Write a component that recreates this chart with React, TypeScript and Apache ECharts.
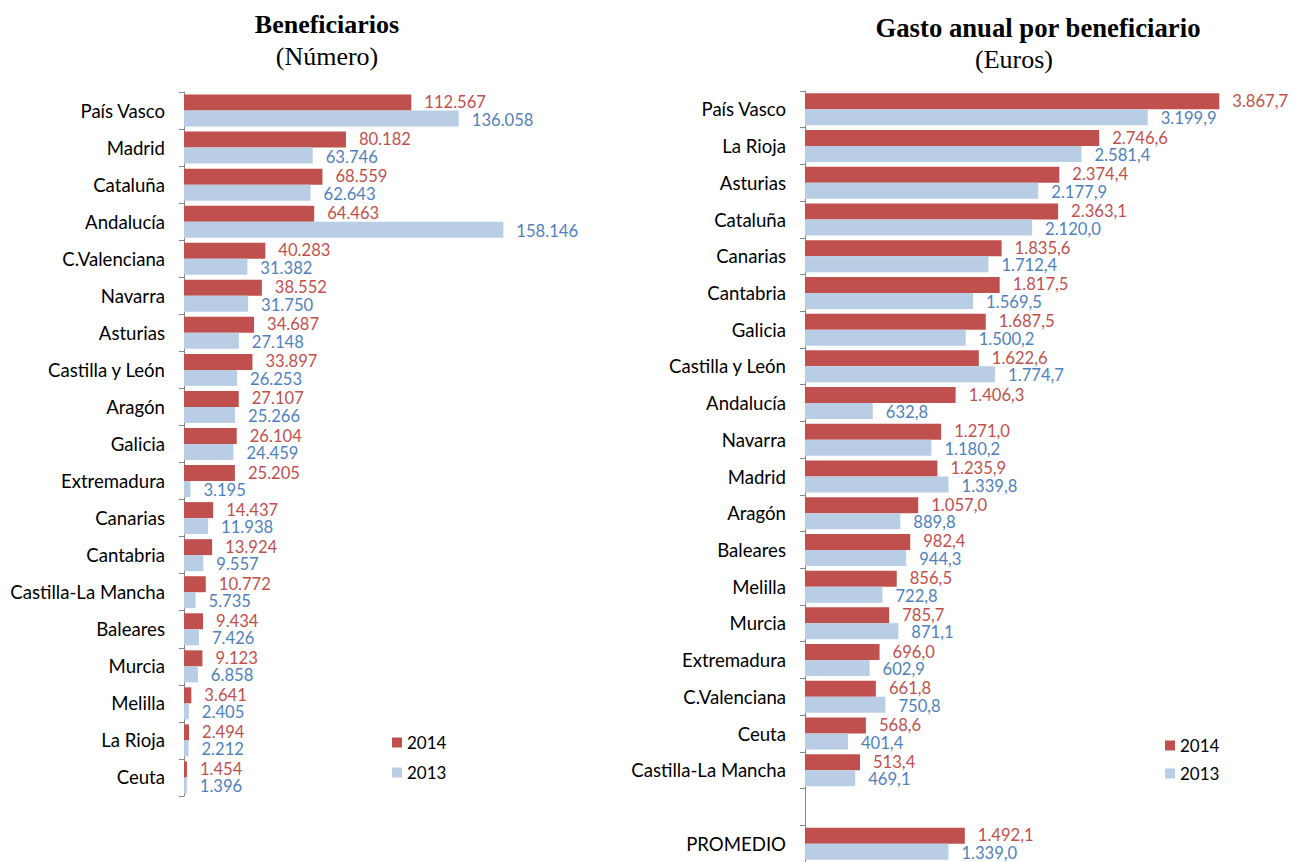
import React, { useEffect, useRef } from "react";
import * as echarts from "echarts";

const leftCategories = ["País Vasco", "Madrid", "Cataluña", "Andalucía", "C.Valenciana", "Navarra", "Asturias", "Castilla y León", "Aragón", "Galicia", "Extremadura", "Canarias", "Cantabria", "Castilla-La Mancha", "Baleares", "Murcia", "Melilla", "La Rioja", "Ceuta"];
const left2014 = [112567, 80182, 68559, 64463, 40283, 38552, 34687, 33897, 27107, 26104, 25205, 14437, 13924, 10772, 9434, 9123, 3641, 2494, 1454];
const left2013 = [136058, 63746, 62643, 158146, 31382, 31750, 27148, 26253, 25266, 24459, 3195, 11938, 9557, 5735, 7426, 6858, 2405, 2212, 1396];

const rightCategories = ["País Vasco", "La Rioja", "Asturias", "Cataluña", "Canarias", "Cantabria", "Galicia", "Castilla y León", "Andalucía", "Navarra", "Madrid", "Aragón", "Baleares", "Melilla", "Murcia", "Extremadura", "C.Valenciana", "Ceuta", "Castilla-La Mancha", "", "PROMEDIO"];
const right2014 = [3867.7, 2746.6, 2374.4, 2363.1, 1835.6, 1817.5, 1687.5, 1622.6, 1406.3, 1271.0, 1235.9, 1057.0, 982.4, 856.5, 785.7, 696.0, 661.8, 568.6, 513.4, null, 1492.1];
const right2013 = [3199.9, 2581.4, 2177.9, 2120.0, 1712.4, 1569.5, 1500.2, 1774.7, 632.8, 1180.2, 1339.8, 889.8, 944.3, 722.8, 871.1, 602.9, 750.8, 401.4, 469.1, null, 1339.0];

const RED = "#C0504D";
const BLUE = "#B9CDE5";
const RED_TXT = "#C0504D";
const BLUE_TXT = "#4F81BD";
const FONT = "Lato";

function fmt(v: number | null, decimals: number): string {
  if (v === null || v === undefined || isNaN(v as number)) return "";
  const fixed = (v as number).toFixed(decimals);
  const [intPart, dec] = fixed.split(".");
  const grouped = intPart.replace(/\B(?=(\d{3})+(?!\d))/g, ".");
  return dec ? grouped + "," + dec : grouped;
}

export default function App() {
  const ref = useRef<HTMLDivElement>(null);
  useEffect(() => {
    if (!ref.current) return;
    const chart = echarts.init(ref.current, undefined, { renderer: "svg" });
    const yAxisCommon = {
      type: "category" as const,
      inverse: true,
      axisLine: { show: true, lineStyle: { color: "#868686", width: 1 } },
      axisTick: { show: true, length: 5, lineStyle: { color: "#868686" } },
      axisLabel: { color: "#000", fontFamily: FONT, fontSize: 18.6, margin: 19, interval: 0 },
      splitLine: { show: false },
    };
    const mkSeries = (name: string, data: (number | null)[], color: string, txt: string, idx: number, dec: number, dy: number) => ({
      name,
      type: "bar" as const,
      xAxisIndex: idx,
      yAxisIndex: idx,
      data,
      barWidth: 16,
      barGap: "0%",
      itemStyle: { color },
      label: {
        show: true,
        position: "right" as const,
        distance: 13,
        offset: [0, dy],
        color: txt,
        fontFamily: FONT,
        fontSize: 16.6,
        lineHeight: 15,
        formatter: (p: any) => fmt(p.value, dec),
      },
    });
    const legendCommon = {
      orient: "vertical" as const,
      itemWidth: 10,
      itemHeight: 10,
      itemGap: 12,
      icon: "rect",
      data: ["2014", "2013"],
      textStyle: { color: "#000", fontFamily: FONT, fontSize: 17 },
      selectedMode: false,
    };
    chart.setOption({
      animation: false,
      backgroundColor: "#fff",
      grid: [
        { left: 184, top: 92, width: 363.5, height: 704 },
        { left: 805, top: 91, width: 482, height: 774 },
      ],
      xAxis: [
        { type: "value", gridIndex: 0, min: 0, max: 180000, show: false },
        { type: "value", gridIndex: 1, min: 0, max: 4500, show: false },
      ],
      yAxis: [
        { ...yAxisCommon, gridIndex: 0, data: leftCategories },
        { ...yAxisCommon, gridIndex: 1, data: rightCategories },
      ],
      legend: [
        { ...legendCommon, left: 387, top: 729, itemGap: 13 },
        { ...legendCommon, left: 1160, top: 732, itemGap: 11 },
      ],
      graphic: [
        { type: "text", x: 327, y: 24, style: { text: "Beneficiarios", font: "bold 26px 'Liberation Serif'", fill: "#000", textAlign: "center", textVerticalAlign: "middle" } },
        { type: "text", x: 327, y: 56, style: { text: "(Número)", font: "26px 'Liberation Serif'", fill: "#000", textAlign: "center", textVerticalAlign: "middle" } },
        { type: "text", x: 1038, y: 28, style: { text: "Gasto anual por beneficiario", font: "bold 26.7px 'Liberation Serif'", fill: "#000", textAlign: "center", textVerticalAlign: "middle" } },
        { type: "text", x: 1014, y: 59, style: { text: "(Euros)", font: "26px 'Liberation Serif'", fill: "#000", textAlign: "center", textVerticalAlign: "middle" } },
      ],
      series: [
        mkSeries("2014", left2014, RED, RED_TXT, 0, 0, -0.5),
        mkSeries("2013", left2013, BLUE, BLUE_TXT, 0, 0, 1),
        mkSeries("2014", right2014, RED, RED_TXT, 1, 1, -0.5),
        mkSeries("2013", right2013, BLUE, BLUE_TXT, 1, 1, 1),
      ],
    });
    return () => chart.dispose();
  }, []);
  return <div ref={ref} style={{ position: "fixed", left: 0, top: 0, width: 1294, height: 862 }} />;
}
